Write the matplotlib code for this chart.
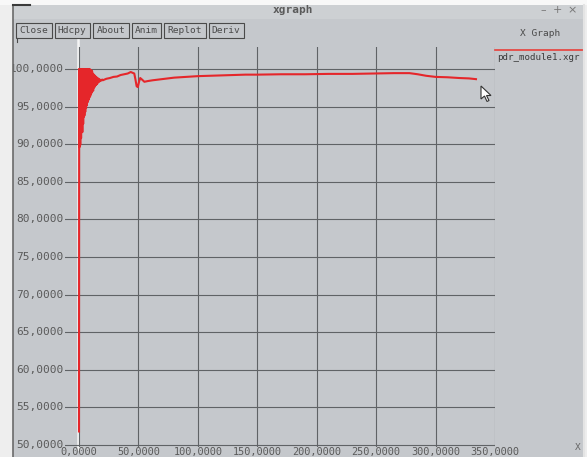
import matplotlib
matplotlib.use("Agg")
import matplotlib.pyplot as plt
from matplotlib.patches import Rectangle, Polygon

# pdr trace for module 1 (packets delivered, %) against simulation time
# dense start-up part, where the ratio jumps between full delivery and losses
head_x = [0, 150, 350, 500, 700, 850, 1050, 1200, 1400, 1550,
          1750, 1900, 2100, 2250, 2450, 2600, 2800, 2950, 3150, 3300,
          3500, 3650, 3850, 4000, 4200, 4350, 4550, 4700, 4900, 5050,
          5250, 5400, 5600, 5750, 5950, 6100, 6300, 6450, 6650, 6800,
          7000, 7150, 7350, 7500, 7700, 7850, 8050, 8200, 8400, 8550,
          8750, 8900, 9100, 9250, 9450, 9600, 9800, 9950, 10150, 10300,
          10500, 10650, 10850, 11000, 11300, 11600, 11900, 12200, 12500, 12800,
          13100, 13400, 13700, 14000, 14400, 14800, 15200, 15600, 16000, 16500,
          17000, 17500, 18000, 18500, 19000, 19500]
head_y = [51.8, 100.0, 89.6, 100.0, 90.4, 100.0, 89.9, 100.0, 91.2, 100.0,
          90.8, 100.0, 91.9, 100.0, 92.3, 100.0, 91.6, 100.0, 93.0, 100.0,
          92.7, 100.0, 93.6, 100.0, 94.1, 100.0, 93.8, 100.0, 94.6, 100.0,
          94.3, 100.0, 95.0, 100.0, 94.8, 100.0, 95.4, 100.0, 95.2, 100.0,
          95.8, 100.0, 95.6, 100.0, 96.1, 100.0, 95.9, 100.0, 96.3, 99.8,
          96.2, 100.0, 96.6, 99.7, 96.4, 99.9, 96.8, 99.6, 96.7, 99.8,
          97.0, 99.5, 96.9, 99.7, 97.2, 99.4, 97.1, 99.3, 97.5, 99.2,
          97.6, 99.1, 97.8, 99.0, 97.9, 98.9, 98.0, 98.8, 98.2, 98.7,
          98.3, 98.6, 98.4, 98.5, 98.5, 98.6]

# settled part of the run
tail_x = [20000, 23000, 26000, 29000, 32000, 35000, 38000, 41000, 43500, 45000,
          46500, 47500, 48500, 49500, 50500, 51500, 53000, 55000, 58000, 62000,
          67000, 72000, 80000, 90000, 100000, 110000, 120000, 130000, 140000, 150000,
          170000, 190000, 210000, 230000, 250000, 265000, 278000, 285000, 292000, 300000,
          310000, 320000, 328000, 334000]
tail_y = [98.5, 98.7, 98.8, 98.95, 99.0, 99.2, 99.3, 99.4, 99.6, 99.5,
          99.4, 98.6, 97.7, 97.6, 98.3, 98.8, 98.6, 98.3, 98.4, 98.5,
          98.6, 98.7, 98.85, 98.95, 99.05, 99.1, 99.15, 99.2, 99.25, 99.25,
          99.3, 99.3, 99.35, 99.35, 99.4, 99.45, 99.45, 99.3, 99.1, 98.95,
          98.9, 98.8, 98.75, 98.65]

x_ticks = [0, 50000, 100000, 150000, 200000, 250000, 300000, 350000]
y_ticks = [50, 55, 60, 65, 70, 75, 80, 85, 90, 95, 100]
buttons = ["Close", "Hdcpy", "About", "Anim", "Replot", "Deriv"]
legend_name = "pdr_module1.xgr"

W, H = 587, 457
win_bg = "#c5c8cc"
ink = "#5a5a5a"
mono = "DejaVu Sans Mono"

fig = plt.figure(figsize=(W / 100, H / 100), dpi=100)
fig.patch.set_facecolor("#eeeeee")

# window chrome, drawn in pixel coordinates
bg = fig.add_axes([0, 0, 1, 1])
bg.set_xlim(0, W)
bg.set_ylim(H, 0)
bg.axis("off")
bg.add_patch(Rectangle((12, 5), 572, 452, facecolor=win_bg, edgecolor="none"))
bg.add_patch(Rectangle((12, 5), 572, 14, facecolor="#cdd0d3", edgecolor="none"))
bg.text(293, 10, "xgraph", ha="center", va="center", family=mono,
        fontsize=8, fontweight="bold", color="#5a5a5a")
for px, s in zip([543, 557, 572], ["\u2013", "+", "\u00d7"]):
    bg.text(px, 10, s, ha="center", va="center", fontsize=8, color="#777777")

bx = 16
for name in buttons:
    w = 6.3 * len(name) + 4
    bg.add_patch(Rectangle((bx, 23), w, 15, facecolor="none", edgecolor="#4a4a4a", lw=0.8))
    bg.text(bx + w / 2, 30.5, name, ha="center", va="center", family=mono,
            fontsize=6.8, color="#4a4a4a")
    bx += w + 3
bg.plot([17, 17], [38, 42], color="#4a4a4a", lw=0.8)
bg.text(540, 33, "X Graph", ha="center", va="center", family=mono,
        fontsize=6.8, color="#4a4a4a")
bg.text(578, 447, "X", ha="center", va="center", family=mono,
        fontsize=6.8, color="#666666")

# legend entry at the right
bg.plot([495, 583], [50, 50], color="#e8403a", lw=1.2)
bg.text(497, 57.5, legend_name, ha="left", va="center", family=mono,
        fontsize=6.6, color="#3a3a3a")

# plotting area
x0_px, x350_px = 79, 495
y100_px, y50_px = 69, 445
left_px, top_px, bottom_px = 65, 47, 447
xs = 350000 / (x350_px - x0_px)
ys = 50 / (y50_px - y100_px)
ax = fig.add_axes([left_px / W, 1 - bottom_px / H,
                   (x350_px - left_px) / W, (bottom_px - top_px) / H])
ax.set_xlim(-(x0_px - left_px) * xs, 350000)
ax.set_ylim(50 - (bottom_px - y50_px) * ys, 100 + (y100_px - top_px) * ys)
ax.set_facecolor("none")
for s in ax.spines.values():
    s.set_visible(False)
ax.set_xticks([])
ax.set_yticks([])
for v in x_ticks:
    ax.axvline(v, color="#606366", lw=0.8, zorder=1)
for v in y_ticks:
    ax.axhline(v, color="#606366", lw=0.8, zorder=1)

ax.plot(head_x + tail_x, head_y + tail_y, color="#e5262a", lw=1.5,
        solid_joinstyle="round", zorder=3)

# zero line of the x axis
bg.plot([x0_px - 1, x0_px - 1], [40, 449], color="#f4f4f4", lw=1.8, zorder=2)

for v in x_ticks:
    px = x0_px + v / xs
    label = "{},0000".format(v // 1000) if v else "0,0000"
    bg.text(px, 452, label, ha="center", va="center", family=mono,
            fontsize=7.4, color=ink)
for v in y_ticks:
    py = y100_px + (100 - v) / ys
    bg.text(63.5, py, "{},0000".format(v), ha="right", va="center",
            family=mono, fontsize=8.0, color=ink)

# window edge hides the start of the long top label
bg.add_patch(Rectangle((0, 5), 12.5, H, facecolor="#eeeeee", edgecolor="none", zorder=5))
bg.add_patch(Rectangle((0, 0), W, 4.5, facecolor="#f8f8f8", edgecolor="none", zorder=5))
bg.plot([13, 13], [5, 457], color="#6a6a6a", lw=1.2, zorder=6)
bg.plot([13, 30], [5, 5], color="#3a3a3a", lw=1.5, zorder=6)
bg.plot([584, 584], [5, 457], color="#e4e4e4", lw=1.5, zorder=6)

# mouse pointer
bg.add_patch(Polygon([[481, 86], [481, 99], [484.5, 96], [487, 101.5],
                      [489, 100.5], [486.5, 95.5], [491, 95.5]],
                     closed=True, facecolor="white", edgecolor="#333333", lw=0.8, zorder=6))

fig.savefig("out.png", dpi=100, facecolor=fig.get_facecolor())
